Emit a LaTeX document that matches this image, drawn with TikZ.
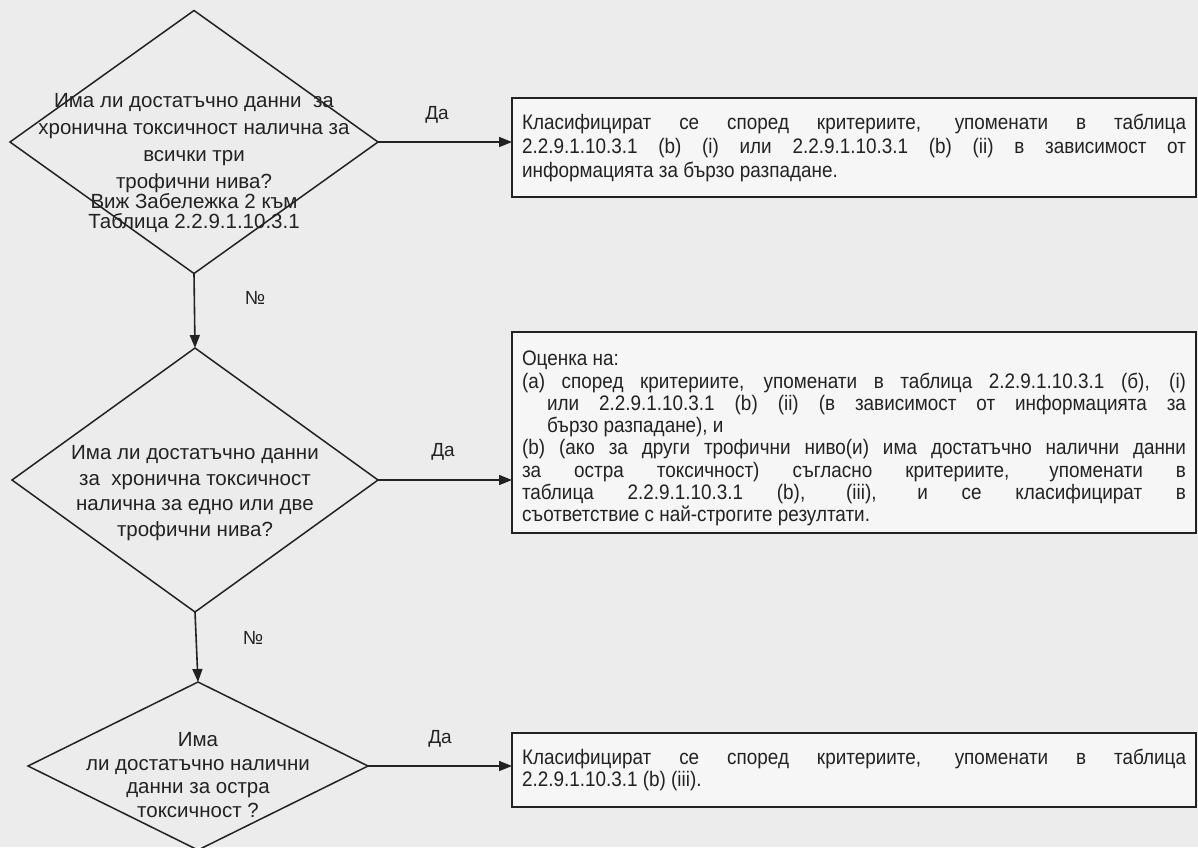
\documentclass[tikz,border=0pt]{standalone}
\usepackage{fontspec}
\setmainfont{Liberation Sans}
\newfontfamily\narrowfont[FakeStretch=0.9]{Liberation Sans}
\usetikzlibrary{shapes.geometric,arrows.meta}
\definecolor{bg}{RGB}{236,236,236}
\definecolor{ink}{RGB}{34,34,34}
\definecolor{boxfill}{RGB}{246,246,246}
\begin{document}
\begin{tikzpicture}[x=1pt,y=-1pt,
  dia/.style={diamond, draw=ink, line width=1.5pt, inner sep=0pt, outer sep=0pt},
  dtext/.style={align=center, text=ink, inner sep=0pt},
  resbox/.style={draw=ink, line width=1.6pt, fill=boxfill, inner xsep=10pt, inner ysep=0pt,
    outer sep=0pt, text width=664pt, align=justify, anchor=north west, text=ink,
    font=\narrowfont\fontsize{21}{22.3}\selectfont},
  conn/.style={draw=ink, line width=1.6pt, -{Triangle[length=13pt,width=10pt]}},
  lbl/.style={font=\fontsize{19}{22}\selectfont, text=ink, inner sep=0pt}]
\useasboundingbox (0,0) rectangle (1198,847);
\clip (0,0) rectangle (1198,847);
\fill[bg] (0,0) rectangle (1198,847);

% diamonds
\node[dia, minimum width=368pt, minimum height=263pt] (d1) at (194,142) {};
\node[dia, minimum width=366pt, minimum height=264pt] (d2) at (195,480) {};
\node[dia, minimum width=340pt, minimum height=168pt] (d3) at (198,766) {};

\node[dtext, font=\fontsize{20.5}{27}\selectfont] (t1) at (194,163)
  {Има ли достатъчно данни\ \ за\\хронична токсичност налична за\\всички три\\трофични нива?\\[-7pt]Виж Забележка 2 към\\[-7pt]Таблица 2.2.9.1.10.3.1};
\node[dtext, font=\fontsize{20.5}{25.5}\selectfont] (t2) at (195,493)
  {Има ли достатъчно данни\\за\ \ хронична токсичност\\налична за едно или две\\трофични нива?};
\node[dtext, font=\fontsize{20.5}{23.4}\selectfont] (t3) at (198,775)
  {Има\\ли достатъчно налични\\данни за остра\\токсичност ?};

% result boxes
\node[resbox, minimum height=99pt, font=\narrowfont\fontsize{21}{24}\selectfont] (b1) at (512,98)
  {\hyphenpenalty=10000 Класифицират се според критериите, упоменати в таблица\linebreak
   2.2.9.1.10.3.1 (b) (i) или 2.2.9.1.10.3.1 (b) (ii) в зависимост от\linebreak
   информацията за бързо разпадане.};
\node[resbox, minimum height=201pt] (b2) at (512,332)
  {\hyphenpenalty=10000 \rule{0pt}{27pt}Оценка на:\par
   \hangindent=25pt\hangafter=1 (a) според критериите, упоменати в таблица 2.2.9.1.10.3.1 (б), (i)\linebreak
   или 2.2.9.1.10.3.1 (b) (ii) (в зависимост от информацията за\linebreak
   бързо разпадане), и\par
   \hangindent=25pt\hangafter=1 (b) (ако за други трофични ниво(и) има достатъчно налични данни\linebreak
   за остра токсичност) съгласно критериите, упоменати в\linebreak
   таблица 2.2.9.1.10.3.1 (b), (iii), и се класифицират в\linebreak
   съответствие с най-строгите резултати.};
\node[resbox, minimum height=74pt] (b3) at (512,733)
  {\hyphenpenalty=10000 Класифицират се според критериите, упоменати в таблица\linebreak
   2.2.9.1.10.3.1 (b) (iii).};

% connectors
\draw[conn] (d1.east) -- (d1.east -| b1.west);
\draw[conn] (d2.east) -- (d2.east -| b2.west);
\draw[conn] (d3.east) -- (d3.east -| b3.west);
\draw[conn] (d1.south) -- (d2.north);
\draw[conn] (d2.south) -- (d3.north);

% labels
\node[lbl] (y1) at (437,115) {Да};
\node[lbl] (y2) at (443,452) {Да};
\node[lbl] (y3) at (440,739) {Да};
\node[lbl] (n1) at (255,298) {№};
\node[lbl] (n2) at (253,638) {№};
\end{tikzpicture}
\end{document}
